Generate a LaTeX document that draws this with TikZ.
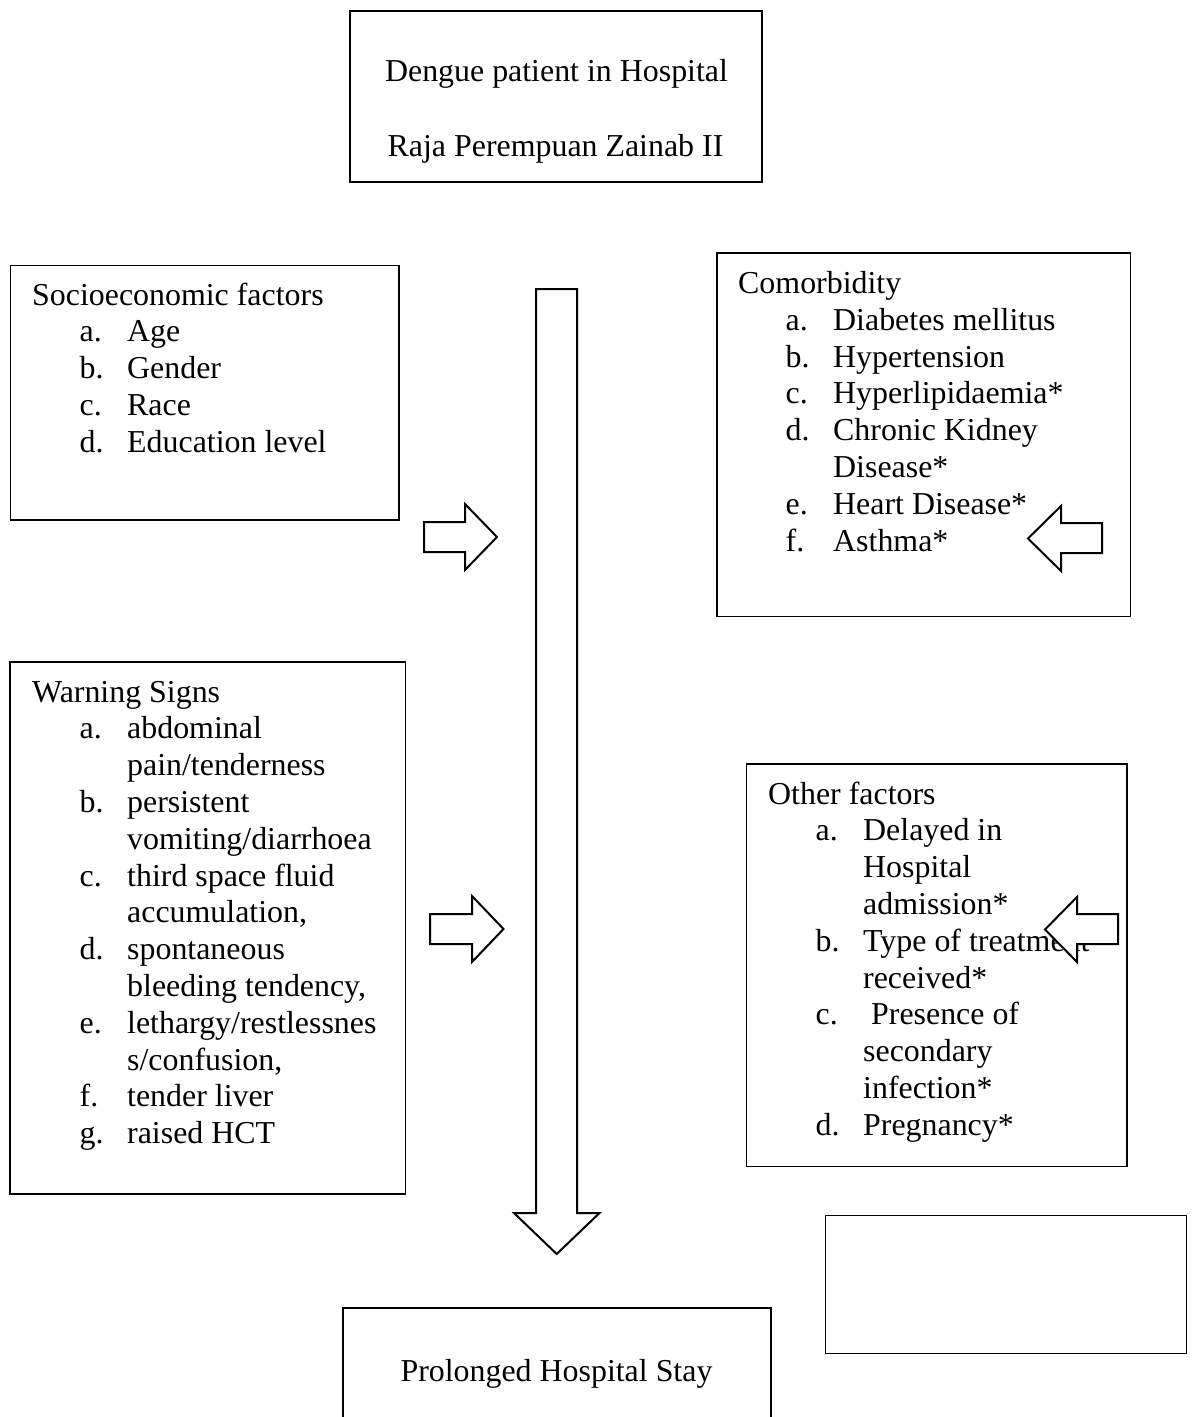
\documentclass[tikz,border=0pt]{standalone}
\usepackage{fontspec}
\setmainfont{Liberation Serif}
\newcommand{\flist}[1]{\begin{tabular}{@{}p{47.5pt}@{}p{47.5pt}@{}l@{}}#1\end{tabular}}
\begin{document}
\begin{tikzpicture}[x=1pt,y=-1pt,
  box/.style={draw, line width=1.4pt, inner sep=0pt, fill=none},
  txt/.style={inner sep=0pt, anchor=north west, font=\fontsize{31.9}{36.8}\selectfont},
  ctxt/.style={inner sep=0pt, anchor=base, font=\fontsize{31.9}{36.8}\selectfont},
  blockarrow/.style={draw, line width=2pt, line join=miter, fill=white}]
\useasboundingbox (0,0) rectangle (1194,1417);
\clip (0,0) rectangle (1194,1417);
\fill[white] (0,0) rectangle (1194,1417);

% boxes
\node[box, minimum width=412pt, minimum height=171pt] (top) at (556,96.5) {};
\node[box, minimum width=388.5pt, minimum height=254.5pt] (socio) at (204.75,392.75) {};
\node[box, minimum width=413.5pt, minimum height=363.5pt] (como) at (923.75,434.75) {};
\node[box, minimum width=395.5pt, minimum height=532pt] (warn) at (207.75,928) {};
\node[box, minimum width=380.5pt, minimum height=402.5pt] (other) at (936.75,965.25) {};
\node[box, minimum width=361pt, minimum height=138pt] (empty) at (1006,1284.5) {};
\node[box, minimum width=428pt, minimum height=140pt] (stay) at (557,1378) {};

% texts
\node[ctxt] (t1) at (556.5,81.7) {Dengue patient in Hospital};
\node[ctxt] (t2) at (555.5,156.3) {Raja Perempuan Zainab II};
\node[ctxt] (t3) at (556.5,1381.7) {Prolonged Hospital Stay};

\node[txt] (sociotext) at (32,279.2) {\flist{%
\multicolumn{3}{@{}l@{}}{Socioeconomic factors}\\
& a. & Age\\
& b. & Gender\\
& c. & Race\\
& d. & Education level}};

\node[txt] (comotext) at (738,267.5) {\flist{%
\multicolumn{3}{@{}l@{}}{Comorbidity}\\
& a. & Diabetes mellitus\\
& b. & Hypertension\\
& c. & Hyperlipidaemia*\\
& d. & Chronic Kidney\\
&    & Disease*\\
& e. & Heart Disease*\\
& f. & Asthma*}};

\node[txt] (warntext) at (32,676.2) {\flist{%
\multicolumn{3}{@{}l@{}}{Warning Signs}\\
& a. & abdominal\\
&    & pain/tenderness\\
& b. & persistent\\
&    & vomiting/diarrhoea\\
& c. & third space fluid\\
&    & accumulation,\\
& d. & spontaneous\\
&    & bleeding tendency,\\
& e. & lethargy/restlessnes\\
&    & s/confusion,\\
& f. & tender liver\\
& g. & raised HCT}};

\node[txt] (othertext) at (768,778.2) {\flist{%
\multicolumn{3}{@{}l@{}}{Other factors}\\
& a. & Delayed in\\
&    & Hospital\\
&    & admission*\\
& b. & Type of treatment\\
&    & received*\\
& c. & \ Presence of\\
&    & secondary\\
&    & infection*\\
& d. & Pregnancy*}};

% block arrows
\draw[blockarrow] (536,289) -- (577,289) -- (577,1213) -- (599.5,1213) -- (556.7,1254) -- (514,1213) -- (536,1213) -- cycle;
\draw[blockarrow] (424,522) -- (465,522) -- (465,504) -- (497,537) -- (465,570) -- (465,552) -- (424,552) -- cycle;
\draw[blockarrow] (430,914) -- (472,914) -- (472,896) -- (503.5,929) -- (472,962) -- (472,944) -- (430,944) -- cycle;
\draw[blockarrow] (1102,523) -- (1061,523) -- (1061,506) -- (1028,538.5) -- (1061,571) -- (1061,553) -- (1102,553) -- cycle;
\draw[blockarrow] (1118,914) -- (1077,914) -- (1077,897) -- (1045,929.5) -- (1077,962) -- (1077,944) -- (1118,944) -- cycle;
\end{tikzpicture}
\end{document}
